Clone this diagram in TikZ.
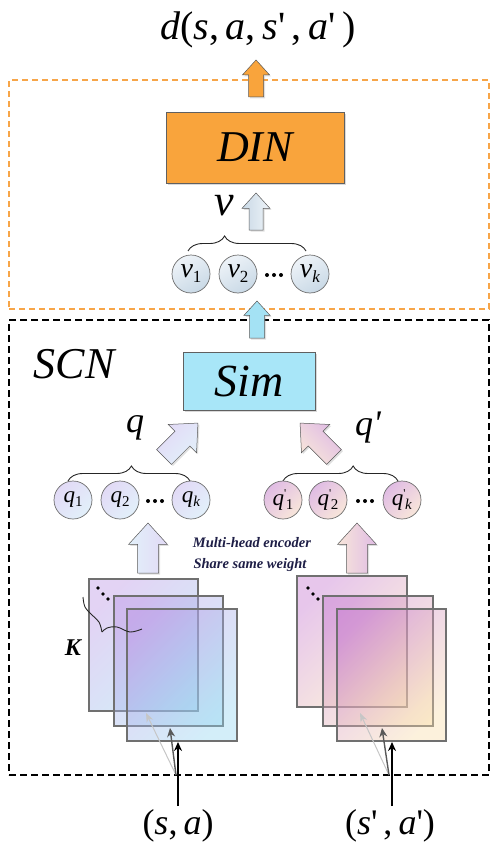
\documentclass[tikz,border=0pt]{standalone}
\usepackage{fontspec}
\setmainfont{Liberation Serif}
\usetikzlibrary{shadows,decorations.pathreplacing,arrows.meta}
\definecolor{dinorange}{HTML}{F9A43C}
\definecolor{dashorange}{HTML}{F7A548}
\definecolor{simcyan}{HTML}{A8E6F8}
\definecolor{cyanarrow}{HTML}{A4E2F4}
\definecolor{vA}{HTML}{EEF3F8}
\definecolor{vB}{HTML}{C9D9E6}
\definecolor{qA}{HTML}{E2DAF6}
\definecolor{qB}{HTML}{E2F0FA}
\definecolor{pA}{HTML}{E0BCE4}
\definecolor{pB}{HTML}{F8E6DA}
\definecolor{LA}{HTML}{B890E4}
\definecolor{LB}{HTML}{90D4F0}
\definecolor{RA}{HTML}{C270CE}
\definecolor{RB}{HTML}{F8DCA8}
\definecolor{navy}{HTML}{1E1E46}
\definecolor{rimgray}{HTML}{707070}
\newcommand{\fs}[1]{\fontsize{#1}{#1}\selectfont}
\newcommand{\vsub}[2]{\textit{#1}\raisebox{-5pt}{\fs{17}#2}}
\newcommand{\qsub}[2]{\textit{#1}\raisebox{-4pt}{\fs{15}#2}}
\newcommand{\qpsub}[1]{\textit{q}\raisebox{8pt}{\fs{12}\textquotesingle}\kern-0.5pt\raisebox{-4pt}{\fs{15}#1}}
% block arrow: #1 style, #2 tail, #3 angle, #4 length, #5 shaft width, #6 head width
\newcommand{\barr}[6]{%
  \begin{scope}[shift={#2}, x=1pt, y=1pt, rotate=#3]
    \path[#1] (0,{-#5/2}) -- ({#4-0.55*#6},{-#5/2}) -- ({#4-0.55*#6},{-#6/2}) -- (#4,0)
      -- ({#4-0.55*#6},{#6/2}) -- ({#4-0.55*#6},{#5/2}) -- (0,{#5/2}) -- cycle;
  \end{scope}}
\tikzset{
  barrow/.style={draw=gray!70!black, line width=0.5pt, line join=miter,
    drop shadow={shadow xshift=1.5pt, shadow yshift=-1.5pt, opacity=0.25}},
  vcirc/.style={circle, draw=gray!85!black, line width=0.7pt, minimum size=38, inner sep=0pt,
    top color=vA, bottom color=vB, shading angle=30, font=\fs{28}},
  qcirc/.style={circle, draw=gray!85!black, line width=0.7pt, minimum size=38, inner sep=0pt,
    top color=qA, bottom color=qB, shading angle=45, font=\fs{23}},
  pcirc/.style={circle, draw=gray!85!black, line width=0.7pt, minimum size=38, inner sep=0pt,
    top color=pA, bottom color=pB, shading angle=45, font=\fs{23}},
  mainbox/.style={draw=gray!75!black, line width=0.8pt, inner sep=0pt,
    drop shadow={shadow xshift=2pt, shadow yshift=-2pt, opacity=0.3}},
  lrect/.style={draw=rimgray, line width=1.2pt, top color=LA, bottom color=LB, shading angle=45, fill opacity=0.4},
  rrect/.style={draw=rimgray, line width=1.2pt, top color=RA, bottom color=RB, shading angle=45, fill opacity=0.4},
  hbrace/.style={decorate, decoration={brace, amplitude=15pt, aspect=#1}, line width=0.9pt, black!85},
  bigsym/.style={font=\fs{#1}\itshape},
}
\begin{document}
\begin{tikzpicture}[x=1pt,y=-1pt]
\useasboundingbox (0,0) rectangle (492,848);
% frames
\node[draw=dashorange, dash pattern=on 6pt off 4pt, line width=1.6pt, minimum width=480, minimum height=229, inner sep=0pt] (dinframe) at (249,194.5) {};
\node[draw=black, dash pattern=on 7pt off 4pt, line width=2pt, minimum width=480, minimum height=455, inner sep=0pt] (scnframe) at (249,547.5) {};
% title
\node[font=\fs{40}] (title) at (258,30) {\textit{d}(\textit{s},\,\textit{a},\,\textit{s}\textquotesingle\,,\,\textit{a}\textquotesingle\,)};
% top arrow
\barr{barrow, fill=dinorange}{(256,97)}{90}{37}{15}{27}
% DIN
\node[mainbox, fill=dinorange, minimum width=178, minimum height=71, font=\fs{44}\itshape] (din) at (255,147.5) {DIN};
% v arrow
\barr{barrow, top color=vA, bottom color=vB, shading angle=-90}{(256,230)}{90}{37}{14}{28}
\node[bigsym=44] (vlab) at (224,206) {v};
\draw[hbrace=0.31] (188,251) -- (306,251);
\node[vcirc] (v1) at (191,274) {\vsub{v}{1}};
\node[vcirc] (v2) at (238,274) {\vsub{v}{2}};
\node[vcirc] (vk) at (310,274) {\vsub{v}{\textit{k}}};
\foreach \x in {267,274,281} \fill (\x,275) circle (2);
% cyan arrow
\barr{barrow, fill=cyanarrow}{(257,338)}{90}{37}{15}{26}
% SCN
\node[bigsym=44] (scn) at (74,364) {SCN};
% Sim
\node[mainbox, fill=simcyan, minimum width=132, minimum height=58, font=\fs{46}\itshape] (sim) at (249,381) {Sim};
% q side
\node[bigsym=36] (qlab) at (135,428) {q};
\barr{barrow, top color=qA, bottom color=qB, shading angle=45}{(164,457)}{45}{48}{21}{40}
\node[bigsym=36] (qplab) at (368,428) {q\textquotesingle};
\barr{barrow, top color=pA, bottom color=pB, shading angle=-45}{(334,457)}{135}{48}{21}{40}
\draw[hbrace=0.52] (68,481) -- (190,481);
\draw[hbrace=0.61] (283,481) -- (398,481);
\node[qcirc] (q1) at (73,500) {\qsub{q}{1}};
\node[qcirc] (q2) at (120,500) {\qsub{q}{2}};
\node[qcirc] (qk) at (191,500) {\qsub{q}{\textit{k}}};
\foreach \x in {148,155,162} \fill (\x,501) circle (2);
\node[pcirc] (p1) at (283,500) {\qpsub{1}};
\node[pcirc] (p2) at (328,500) {\qpsub{2}};
\node[pcirc] (pk) at (402,500) {\qpsub{\textit{k}}};
\foreach \x in {358,365,372} \fill (\x,501) circle (2);
% up arrows
\barr{barrow, top color=qA, bottom color=qB, shading angle=-90}{(148,573)}{90}{50}{21}{39}
\barr{barrow, top color=pA, bottom color=pB, shading angle=-90}{(357,573)}{90}{50}{21}{39}
\node[font=\fs{14.5}\bfseries\itshape, text=navy] (enc1) at (252,543) {Multi-head encoder};
\node[font=\fs{14.5}\bfseries\itshape, text=navy] (enc2) at (250,565) {Share same weight};
% left stack
\draw[lrect] (89,579) rectangle (198,711);
\draw[lrect] (114,596) rectangle (223,726);
\draw[lrect] (127,609) rectangle (237,741);
\foreach \p in {(98,588),(103,594),(108,599)} \fill \p circle (1.9);
\draw[line width=0.9pt, black!85] plot[smooth, tension=0.6] coordinates {(83,597) (85,607) (92,615) (99,622) (102,632)};
\draw[line width=0.9pt, black!85] plot[smooth, tension=0.6] coordinates {(102,632) (107,628) (117,627) (130,632) (142,629)};
\node[font=\fs{24}\bfseries\itshape] (klab) at (73,648) {K};
% right stack
\draw[rrect] (297,576) rectangle (407,707);
\draw[rrect] (323,596) rectangle (433,726);
\draw[rrect] (337,609) rectangle (446,741);
\foreach \p in {(308,588),(313,594),(318,599)} \fill \p circle (1.9);
% inputs
\node[font=\fs{36}] (sa) at (178,826) {(\textit{s},\,\textit{a})};
\node[font=\fs{36}] (spa) at (390,826) {(\textit{s}\textquotesingle\,,\,\textit{a}\textquotesingle)};
\coordinate (sa0) at (178,806);
\coordinate (sa1) at (178,742);
\coordinate (sa2) at (170,728);
\coordinate (sa3) at (146,713);
\coordinate (sb0) at (176,775);
\draw[gray!45, line width=1pt, -{Stealth[length=9pt,width=7pt]}] (sb0) -- (sa3);
\draw[gray!70!black, line width=1.4pt, -{Stealth[length=9pt,width=8pt]}] (sb0) -- (sa2);
\draw[black, line width=1.8pt, -{Stealth[length=9pt,width=8pt]}] (sa0) -- (sa1);
\coordinate (sp0) at (392,806);
\coordinate (sp1) at (392,742);
\coordinate (sp2) at (382,728);
\coordinate (sp3) at (360,713);
\coordinate (sq0) at (389,775);
\draw[gray!45, line width=1pt, -{Stealth[length=9pt,width=7pt]}] (sq0) -- (sp3);
\draw[gray!70!black, line width=1.4pt, -{Stealth[length=9pt,width=8pt]}] (sq0) -- (sp2);
\draw[black, line width=1.8pt, -{Stealth[length=9pt,width=8pt]}] (sp0) -- (sp1);
\end{tikzpicture}
\end{document}
